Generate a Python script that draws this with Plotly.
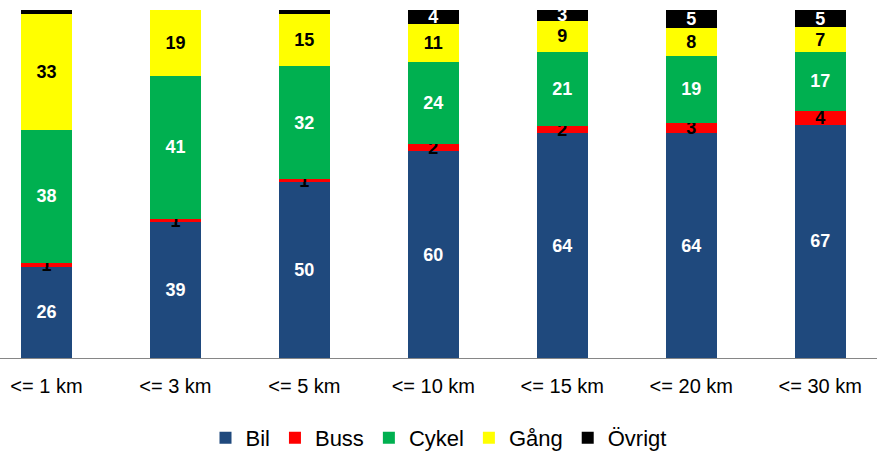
import plotly.graph_objects as go

categories = ["<= 1 km", "<= 3 km", "<= 5 km", "<= 10 km", "<= 15 km", "<= 20 km", "<= 30 km"]
bil = [26, 39, 50, 60, 64, 64, 67]
buss = [1, 1, 1, 2, 2, 3, 4]
cykel = [38, 41, 32, 24, 21, 19, 17]
gang = [33, 19, 15, 11, 9, 8, 7]
ovrigt = [1, 0, 1, 4, 3, 5, 5]

series = [
    ("Bil", bil, "#1F497D", "white"),
    ("Buss", buss, "#FF0000", "black"),
    ("Cykel", cykel, "#00B050", "white"),
    ("Gång", gang, "#FFFF00", "black"),
    ("Övrigt", ovrigt, "#000000", "white"),
]

fig = go.Figure()
for name, vals, color, tcol in series:
    if name == "Övrigt":
        txt = ["" if v < 2 else str(v) for v in vals]
    else:
        txt = [str(v) for v in vals]
    fig.add_trace(go.Bar(
        x=categories, y=vals, name=name,
        marker=dict(color=color, line=dict(width=0)),
        text=txt, textposition="inside", insidetextanchor="middle",
        constraintext="none", cliponaxis=False, textangle=0,
        textfont=dict(color=tcol, size=18, family="Liberation Sans, Arial, sans-serif",
                      weight="bold"),
        hoverinfo="skip",
    ))

fig.update_layout(
    barmode="stack", barnorm="percent", bargap=0.605,
    width=877, height=455,
    margin=dict(l=0, r=0, t=10, b=97, autoexpand=False),
    paper_bgcolor="white", plot_bgcolor="white",
    font=dict(family="Liberation Sans, Arial, sans-serif", size=20, color="black"),
    showlegend=True,
    legend=dict(orientation="h", x=0.5, xanchor="center", y=-0.23, yanchor="middle",
                font=dict(size=22), traceorder="normal", itemwidth=30),
    uniformtext=dict(mode=False),
)
fig.update_xaxes(range=[-0.36, 6.44], showline=True, linecolor="#868686", linewidth=1,
                 ticks="", showgrid=False, ticklabelstandoff=10, tickfont=dict(size=20),
                 automargin=False)
fig.update_yaxes(range=[0, 100.01], visible=False, showgrid=False, automargin=False)

fig.write_html("out.html", post_script="document.body.style.margin='0px';",
               config={"displayModeBar": False})
